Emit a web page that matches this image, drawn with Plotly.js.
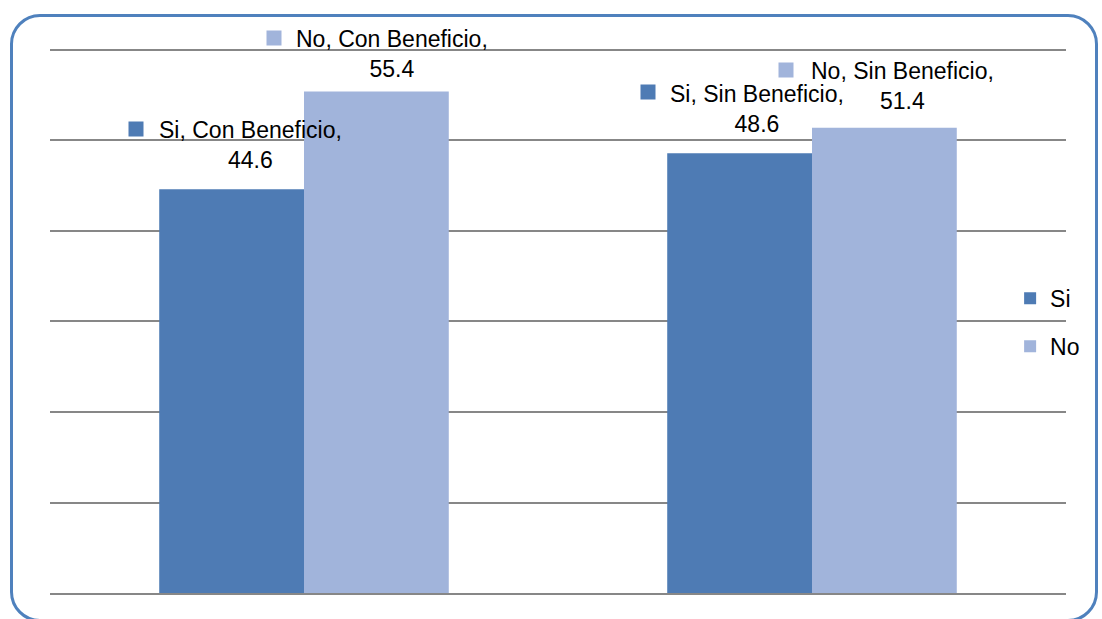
<!DOCTYPE html>
<html>
<head>
<meta charset="utf-8">
<script src="https://cdn.plot.ly/plotly-3.0.1.min.js"></script>
<style>
  html, body { margin: 0; padding: 0; background: #fff; }
  #wrap { position: relative; width: 1102px; height: 619px; overflow: hidden; }
  #chart { position: absolute; left: 0; top: 0; width: 1102px; height: 619px; }
  #frame { position: absolute; left: 10px; top: 14px; width: 1082px; height: 602px;
           border: 3px solid #4F81BD; border-radius: 30px; pointer-events: none; }
</style>
</head>
<body>
<div id="wrap">
  <div id="chart"></div>
  <div id="frame"></div>
</div>
<script>
// ---- data ----
const categories = ["Con Beneficio", "Sin Beneficio"];
const seriesNames = ["Si", "No"];
const siValues = [44.6, 48.6];
const noValues = [55.4, 51.4];
const gridTicks = [0, 10, 20, 30, 40, 50, 60];
const colors = ["#4E7BB4", "#A1B4DB"];

const FONT = "Liberation Sans, Arial, sans-serif";
const FS = 23;

const traces = [
  { type: "bar", name: seriesNames[0], x: categories, y: siValues,
    marker: { color: colors[0] }, legendgroup: "a", hoverinfo: "skip" },
  { type: "bar", name: seriesNames[1], x: categories, y: noValues,
    marker: { color: colors[1] }, legendgroup: "b", hoverinfo: "skip" }
];

// label layout offsets (pixels): [textShiftX, textShiftY, keyShiftX, keyShiftY]
const labelOffsets = [
  [[-54, 44, -168, 60], [-55, 44.5, -164, 61]],   // Si
  [[88, 38, -30, 54],   [90, 42, -26, 58]]        // No
];

const annotations = [];
[siValues, noValues].forEach((vals, s) => {
  vals.forEach((v, i) => {
    const o = labelOffsets[s][i];
    annotations.push({
      x: categories[i], y: v, xref: "x", yref: "y",
      text: seriesNames[s] + ", " + categories[i] + ",<br>" + v.toFixed(1),
      showarrow: false, xanchor: "center", yanchor: "middle", align: "center",
      xshift: o[0], yshift: o[1],
      font: { family: FONT, size: FS, color: "#000" }
    });
    annotations.push({
      x: categories[i], y: v, xref: "x", yref: "y",
      text: " ", showarrow: false, xanchor: "center", yanchor: "middle",
      width: 14, height: 14, bgcolor: colors[s], borderpad: 0,
      xshift: o[2], yshift: o[3],
      font: { size: 4 }
    });
  });
});

const layout = {
  width: 1102, height: 619,
  margin: { l: 50, r: 36, t: 47, b: 26, pad: 0 },
  paper_bgcolor: "#fff", plot_bgcolor: "#fff",
  barmode: "group", bargap: 0.43, bargroupgap: 0,
  showlegend: true,
  legend: { x: 0.945, xanchor: "left", y: 0.579, yanchor: "top",
            font: { family: FONT, size: FS, color: "#000" },
            tracegroupgap: 15, traceorder: "grouped", bgcolor: "rgba(0,0,0,0)" },
  xaxis: { showticklabels: false, ticks: "", showgrid: false, zeroline: false,
           showline: true, linecolor: "#878787", linewidth: 2, fixedrange: true },
  yaxis: { range: [0, 60.33], tickvals: gridTicks, showticklabels: false, ticks: "",
           showgrid: true, gridcolor: "#878787", gridwidth: 2, zeroline: false,
           showline: false, fixedrange: true },
  annotations: annotations,
  font: { family: FONT }
};

Plotly.newPlot("chart", traces, layout, { staticPlot: true, displayModeBar: false });
</script>
</body>
</html>
